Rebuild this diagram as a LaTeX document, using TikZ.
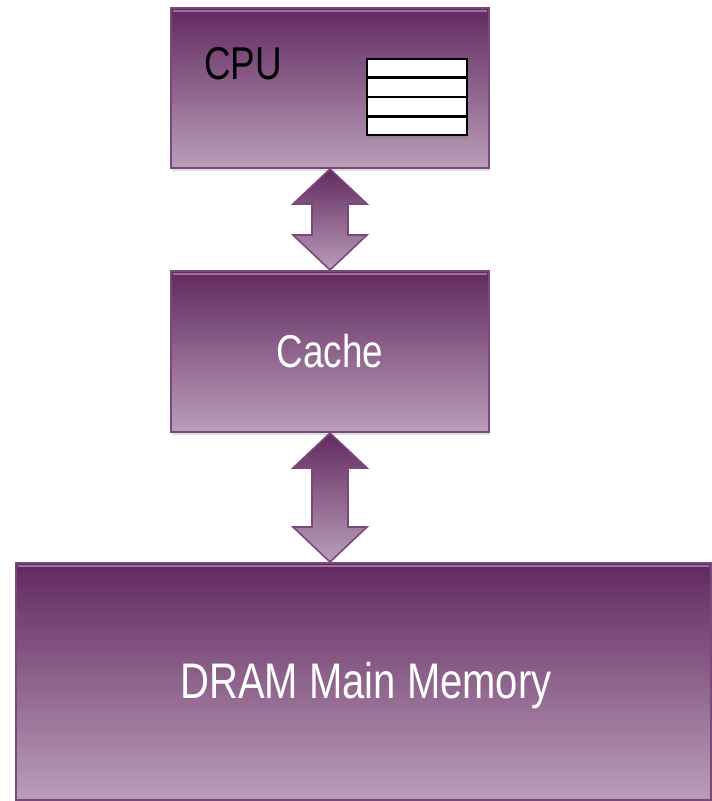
\documentclass[tikz,border=0pt]{standalone}
\usepackage{fontspec}
\setmainfont{Liberation Sans}[FakeStretch=0.8]
\usetikzlibrary{shadows,calc}

\definecolor{plumTop}{RGB}{98,41,96}
\definecolor{plumBot}{RGB}{186,158,185}
\definecolor{plumLine}{RGB}{122,72,122}

\def \headLen {35}
\def \headW {37}
\def \shaftW {18}

\tikzset{
  unitbox/.style={rectangle, draw=plumLine, line width=2pt, top color=plumTop, bottom color=plumBot,
    drop shadow={opacity=0.25, shadow xshift=1pt, shadow yshift=-3pt}, inner sep=0pt},
  boxtext/.style={font=\fontsize{46}{50}\selectfont, inner sep=0pt},
  gloss/.style={draw=white, opacity=0.35, line width=2.5pt},
  busarrow/.style={draw=plumLine, line width=1.6pt, top color=plumTop, bottom color=plumBot,
    line join=miter}
}

\begin{document}
\begin{tikzpicture}[x=1pt, y=-1pt]
      \useasboundingbox (0,0) rectangle (712,801);
      \node[unitbox, minimum width=318pt, minimum height=160pt] (cpu) at (330,88) {};
      \node[unitbox, minimum width=318pt, minimum height=161pt] (cache) at (330,351.5) {};
      \node[unitbox, minimum width=695pt, minimum height=237pt] (dram) at (363.5,681.5) {};
      \foreach \b in {cpu, cache, dram}
         \draw[gloss] ([shift={(3pt,-4pt)}]\b.north west) -- ([shift={(-3pt,-4pt)}]\b.north east);
      \node[boxtext, text=black] (cpuLabel) at (243,64) {CPU};
      \node[boxtext, text=white] (cacheLabel) at (cache) {Cache};
      \node[boxtext, text=white, font=\fontsize{50}{54}\selectfont] (dramLabel) at (366,686) {DRAM Main Memory};
      % register file
      \node[rectangle, draw=black, line width=2.5pt, fill=white, minimum width=100pt, minimum height=76pt,
        drop shadow={opacity=0.3, shadow xshift=1pt, shadow yshift=-4pt}] (regs) at (417,97) {};
      \foreach \i in {1,2,3}
         \draw[line width=2.5pt] ($(regs.north west)!\i/4!(regs.south west)$) -- ($(regs.north east)!\i/4!(regs.south east)$);
      % buses
      \coordinate (a1) at (cpu.south);
      \coordinate (b1) at (cache.north);
      \coordinate (a2) at (cache.south);
      \coordinate (b2) at (cache.south |- dram.north);
      \foreach \a/\b in {a1/b1, a2/b2}
         \path[busarrow] (\a) -- ([shift={(\headW,\headLen)}]\a) -- ([shift={(\shaftW,\headLen)}]\a)
            -- ([shift={(\shaftW,-\headLen)}]\b) -- ([shift={(\headW,-\headLen)}]\b) -- (\b)
            -- ([shift={(-\headW,-\headLen)}]\b) -- ([shift={(-\shaftW,-\headLen)}]\b)
            -- ([shift={(-\shaftW,\headLen)}]\a) -- ([shift={(-\headW,\headLen)}]\a) -- cycle;
   \end{tikzpicture}
\end{document}
